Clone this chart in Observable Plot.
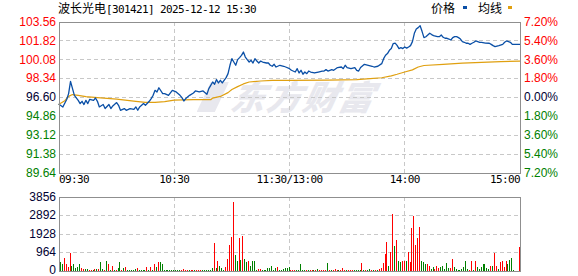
<!DOCTYPE html>
<html><head><meta charset="utf-8">
<script src="https://cdn.jsdelivr.net/npm/d3@7"></script>
<script src="https://cdn.jsdelivr.net/npm/@observablehq/plot@0.6"></script>
<style>
html,body{margin:0;padding:0;background:#fff;}
#wrap{position:relative;width:578px;height:276px;overflow:hidden;background:#fff;}
#wm{position:absolute;left:200px;top:76px;font-family:"Noto Sans CJK SC";font-weight:900;font-size:34px;line-height:40px;color:#e8e8ee;font-style:italic;transform:skewX(-12deg);letter-spacing:2px;white-space:nowrap;z-index:0;}
#wm .logo{display:inline-block;width:26px;height:30px;background:#e8e8ee;clip-path:polygon(30% 0,100% 0,70% 100%,0 100%);margin-right:6px;vertical-align:-2px;}
.cjk{font-family:"Noto Sans CJK SC";font-size:12px;}
.mono{font-family:"DejaVu Sans Mono";font-size:11px;letter-spacing:-0.62px;}
#title{position:absolute;left:58px;top:1px;line-height:14px;color:#000;white-space:nowrap;z-index:2;}
.lg{position:absolute;top:1px;line-height:14px;color:#000;z-index:2;}
.sw{position:absolute;width:4px;height:3px;top:6px;z-index:2;}
.plotbox{position:absolute;left:0;z-index:1;}
</style></head><body>
<div id="wrap">
  <div id="wm"><span class="logo"></span>东方财富</div>
  <div id="title"><span class="cjk">波长光电</span><span class="mono">[301421] 2025-12-12 15:30</span></div>
  <div class="lg cjk" style="left:431px">价格</div>
  <div class="sw" style="left:463px;background:#0a4fa6"></div>
  <div class="lg cjk" style="left:478px">均线</div>
  <div class="sw" style="left:508px;background:#e0a010"></div>
  <div id="topbox" class="plotbox" style="top:0"></div>
  <div id="botbox" class="plotbox" style="top:190px"></div>
</div>
<script>
const prevClose = 96.60;
const priceTicks = [89.64, 91.38, 93.12, 94.86, 96.60, 98.34, 100.08, 101.82, 103.56];
const priceTickLabels = ["89.64","91.38","93.12","94.86","96.60","98.34","100.08","101.82","103.56"];
const pctLabels = ["7.20%","5.40%","3.60%","1.80%","0.00%","1.80%","3.60%","5.40%","7.20%"];
const timeMinutes = [0, 60, 120, 180, 240];
const timeLabels = ["09:30", "10:30", "11:30/13:00", "14:00", "15:00"];
const volTicks = [0, 964, 1928, 2892, 3856];
const volTickLabels = ["0", "964", "1928", "2892", "3856"];

const priceMinute = [0,2,4,5,6,8,10,11,12,13,14,15,16,18,19,20,21,23,24,26,27,28,30,31,32,34,35,37,39,40,41,42,44,45,47,48,49,50,51,52,54,55,57,59,
61,63,64,65,66,68,70,71,73,75,77,78,79,80,81,82,83,84,85,87,88,89,90,91,92,93,94,95,96,97,98,99,100,101,102,103,104,105,106,108,109,110,111,112,113,115,117,118,120,
121,123,124,125,126,127,128,129,130,131,133,135,137,138,139,140,142,143,145,147,148,149,150,152,154,155,156,157,159,161,163,164,166,168,169,170,171,172,173,174,175,176,177,178,179,180,181,182,183,184,185,186,187,188,189,190,191,192,193,194,195,197,198,199,200,201,202,203,204,205,206,207,208,209,210,211,212,213,214,215,216,217,218,219,220,222,224,225,226,227,229,231,232,233,234,235,236,238,240];
const priceValue = [95.97,95.72,96.41,96.96,98.09,96.80,96.34,96.04,96.25,95.95,96.34,96.04,96.43,96.34,96.55,96.25,95.73,95.95,95.58,95.95,95.58,95.82,96.13,95.88,95.42,95.58,95.42,95.58,95.51,95.73,95.42,95.73,96.04,95.88,96.25,96.50,96.80,97.26,97.11,97.50,96.96,96.96,96.80,97.26,
97.11,96.80,96.59,96.28,96.50,96.80,97.02,97.20,97.11,97.20,96.89,97.42,97.72,98.03,97.82,98.25,97.94,98.19,97.94,98.43,98.80,99.57,100.18,99.87,99.57,100.09,100.28,100.49,100.79,100.33,100.09,99.87,100.03,99.78,100.18,99.96,99.78,99.96,99.87,99.78,99.78,99.57,99.48,99.66,99.41,99.57,99.48,99.41,99.26,
99.11,98.95,99.26,98.86,99.11,98.74,98.95,98.80,99.04,98.95,98.86,98.95,99.04,99.04,99.17,99.04,99.17,99.11,99.36,99.41,99.26,99.57,99.36,99.26,99.36,99.11,99.04,99.36,99.66,99.57,99.48,99.41,99.48,99.72,100.18,100.49,100.65,100.95,101.11,101.57,101.62,101.41,101.11,101.20,101.11,101.26,101.15,101.25,101.38,101.75,102.52,102.91,103.04,103.22,102.70,102.12,102.20,102.36,102.52,102.40,102.31,102.21,102.21,102.36,102.15,102.06,102.06,101.99,101.90,102.12,102.21,102.21,102.12,101.99,101.75,101.69,101.60,101.60,101.50,101.60,101.69,101.81,101.75,101.69,101.69,101.62,101.60,101.50,101.38,101.29,101.38,101.50,101.69,101.81,101.75,101.69,101.50,101.50,101.50];

const avgMinute = [0,3,5,7,10,14,20,30,40,45,50,55,60,70,79,80,84,88,90,93,96,99,105,111,120,140,155,162,168,173,176,180,184,187,190,200,210,220,230,240];
const avgValue = [95.97,96.30,96.70,96.87,96.80,96.68,96.58,96.45,96.25,96.15,96.15,96.22,96.35,96.40,96.40,96.55,96.70,97.05,97.33,97.60,97.85,98.03,98.12,98.17,98.17,98.20,98.25,98.34,98.42,98.60,98.74,98.95,99.15,99.41,99.55,99.66,99.76,99.83,99.90,99.96];

// volume (lots) for minutes 1..240, with up (r) / down (g) flag
const volume = [
  417,347,677,313,208,886,260,313,122,191,
  313,156,70,104,104,52,52,52,104,104,
  104,417,104,52,469,313,52,260,52,52,
  122,417,52,156,208,52,52,52,52,104,
  156,52,52,52,52,208,52,208,52,313,
  208,417,417,313,52,52,52,52,52,52,
  52,52,52,52,104,52,52,52,52,52,
  52,52,52,52,52,52,52,52,52,156,
  1459,122,469,260,122,52,208,625,1303,1720,
  3544,782,469,1668,573,1772,625,417,521,260,
  469,469,52,104,104,52,52,52,156,156,
  260,52,156,208,52,52,104,156,156,208,
  52,52,52,52,52,313,52,52,52,52,
  52,52,52,52,104,52,52,52,52,365,
  52,52,52,104,52,52,52,156,52,52,
  52,52,52,52,52,52,52,365,52,52,
  52,104,52,52,52,52,104,156,365,834,
  1511,260,990,2953,1251,1581,521,417,469,521,
  521,938,417,2189,2814,1303,1668,2241,469,417,
  313,313,260,104,208,104,260,156,208,260,
  104,365,156,156,625,208,104,52,52,104,
  208,469,104,52,521,52,521,208,104,208,
  313,313,156,104,260,260,886,260,104,417,
  469,208,521,313,573,677,52,0,0,1199];
const volDir = [
  "g","g","r","r","r","r","g","g","g","g",
  "g","r","r","g","g","r","r","g","r","g",
  "r","g","g","r","g","r","g","r","g","r",
  "g","g","r","g","r","g","g","g","g","g",
  "r","g","g","g","g","r","g","r","g","r",
  "g","r","g","g","g","g","g","g","g","g",
  "g","g","g","r","r","r","r","g","r","r",
  "g","r","r","r","g","g","g","g","g","g",
  "r","g","r","g","g","g","r","r","r","r",
  "r","g","g","r","g","r","g","g","r","g",
  "g","g","g","r","r","g","g","g","g","g",
  "g","g","g","r","g","g","g","g","g","g",
  "r","r","r","g","g","g","g","g","r","g",
  "r","r","g","r","g","r","r","r","r","g",
  "r","g","r","r","r","g","r","r","r","g",
  "r","r","r","g","g","g","g","r","g","r",
  "g","g","r","g","r","g","r","r","r","r",
  "r","g","r","r","g","r","g","g","r","r",
  "g","r","r","r","r","r","r","r","g","g",
  "g","r","r","g","g","r","r","r","g","g",
  "g","g","g","r","r","g","g","g","g","g",
  "g","g","g","r","r","g","r","g","g","g",
  "g","g","g","g","r","g","r","r","g","r",
  "r","r","r","g","g","g","g","g","g","r"];

const RED = "#ff0000", GREEN = "#008000", DARK = "#000033";
const BLUE = "#0a4fa6", ORANGE = "#e0a010";
const GRID = "#c8c8c8", FRAME = "#8f8f8f";
const W = 578, ML = 58.5, MR = 58.5;
const PX = 240 / (W - ML - MR); // minutes per pixel

const priceData = priceMinute.map((m, i) => ({m, p: priceValue[i]}));
const avgData = avgMinute.map((m, i) => ({m, p: avgValue[i]}));
const ticks = priceTicks.map((t, i) => ({t, lab: priceTickLabels[i], pct: pctLabels[i],
  c: Math.abs(t - prevClose) < 1e-6 ? DARK : (t > prevClose ? RED : GREEN)}));
const tl = timeMinutes.map((m, i) => ({m, lab: timeLabels[i]}));
const volData = volume.map((v, i) => ({m: i + 1, v, c: volDir[i] === "r" ? RED : GREEN}));
const vt = volTicks.map((t, i) => ({t, lab: volTickLabels[i]}));

const numFont = {fontFamily: "Liberation Sans", fontSize: 12};
const timeFont = {fontFamily: "DejaVu Sans Mono", fontSize: 11, fill: "#000"};

const priceChart = Plot.plot({
  width: W, height: 190,
  marginLeft: ML, marginRight: MR, marginTop: 21.5, marginBottom: 17.5,
  style: {background: "transparent", overflow: "visible"},
  color: {type: "identity"},
  x: {domain: [0, 240], axis: null},
  y: {domain: [89.64, 103.56], axis: null},
  marks: [
    Plot.ruleY(priceTicks.slice(1, -1), {stroke: GRID, strokeDasharray: "4,3", shapeRendering: "crispEdges"}),
    Plot.ruleX([60, 120, 180], {stroke: GRID, strokeDasharray: "4,3", shapeRendering: "crispEdges"}),
    Plot.line(avgData, {x: "m", y: "p", stroke: ORANGE, strokeWidth: 1.2}),
    Plot.line(priceData, {x: "m", y: "p", stroke: BLUE, strokeWidth: 1.3}),
    Plot.frame({stroke: FRAME, shapeRendering: "crispEdges"}),
    Plot.text(ticks, {y: "t", text: "lab", fill: "c", frameAnchor: "left", dx: -3, textAnchor: "end", ...numFont}),
    Plot.text(ticks, {y: "t", text: "pct", fill: "c", frameAnchor: "right", dx: 4, textAnchor: "start", ...numFont}),
    Plot.text(tl.slice(0, 1), {x: "m", text: "lab", frameAnchor: "bottom", dy: 10, textAnchor: "start", ...timeFont}),
    Plot.text(tl.slice(1, 4), {x: "m", text: "lab", frameAnchor: "bottom", dy: 10, textAnchor: "middle", ...timeFont}),
    Plot.text(tl.slice(4), {x: "m", text: "lab", frameAnchor: "bottom", dy: 10, textAnchor: "end", ...timeFont})
  ]
});
priceChart.querySelectorAll("text").forEach(t => { if (/:/.test(t.textContent)) t.setAttribute("letter-spacing", "-0.62"); });
document.getElementById("topbox").appendChild(priceChart);

const volChart = Plot.plot({
  width: W, height: 86,
  marginLeft: ML, marginRight: MR, marginTop: 6.5, marginBottom: 5.5,
  style: {background: "transparent", overflow: "visible"},
  color: {type: "identity"},
  x: {domain: [0, 240], axis: null},
  y: {domain: [0, 3856], axis: null},
  marks: [
    Plot.ruleY(volTicks.slice(1, -1), {stroke: GRID, strokeDasharray: "4,3", shapeRendering: "crispEdges"}),
    Plot.ruleX([60, 120, 180], {stroke: GRID, strokeDasharray: "4,3", shapeRendering: "crispEdges"}),
    Plot.rectY(volData.filter(d => d.v > 0), {x1: d => d.m - 0.5 * PX, x2: d => d.m + 0.5 * PX, y1: 0, y2: "v", fill: "c", shapeRendering: "crispEdges"}),
    Plot.frame({stroke: FRAME, shapeRendering: "crispEdges"}),
    Plot.text(vt.slice(1), {y: "t", text: "lab", fill: DARK, frameAnchor: "left", dx: -3, textAnchor: "end", ...numFont}),
    Plot.text(vt.slice(0, 1), {y: "t", text: "lab", fill: DARK, frameAnchor: "left", dx: -3, dy: -1, textAnchor: "end", ...numFont})
  ]
});
document.getElementById("botbox").appendChild(volChart);
</script>
</body></html>
